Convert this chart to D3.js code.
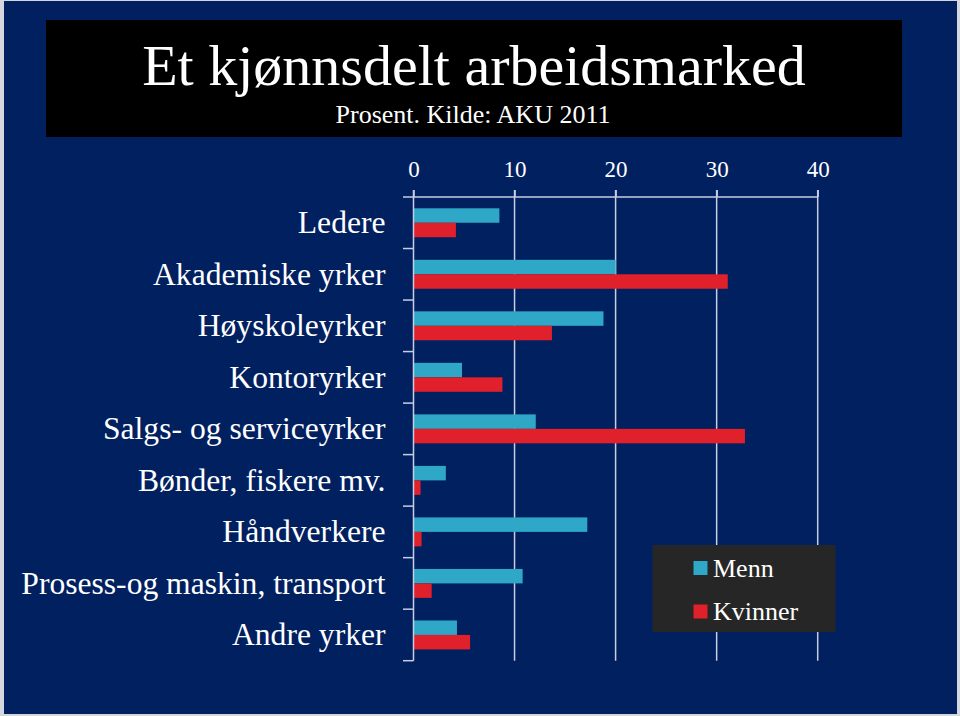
<!DOCTYPE html>
<html>
<head>
<meta charset="utf-8">
<script src="https://cdn.jsdelivr.net/npm/d3@7"></script>
<style>
  html, body { margin: 0; padding: 0; background: #d4d7de; }
  svg { display: block; }
  text { font-family: "Liberation Serif", "Times New Roman", Times, serif; fill: #ffffff; }
</style>
</head>
<body>
<svg id="chart" width="960" height="716"></svg>
<script>
// ---- data ----
const categories = [
  "Ledere",
  "Akademiske yrker",
  "Høyskoleyrker",
  "Kontoryrker",
  "Salgs- og serviceyrker",
  "Bønder, fiskere mv.",
  "Håndverkere",
  "Prosess-og maskin, transport",
  "Andre yrker"
];
const seriesNames = ["Menn", "Kvinner"];
const menn    = [8.5, 20.0, 18.8, 4.8, 12.1, 3.2, 17.2, 10.8, 4.3];
const kvinner = [4.2, 31.1, 13.7, 8.8, 32.8, 0.7, 0.8, 1.8, 5.6];
const xTicks = [0, 10, 20, 30, 40];
const title = "Et kjønnsdelt arbeidsmarked";
const subtitle = "Prosent. Kilde: AKU 2011";

// ---- chart ----
const svg = d3.select("#chart");
const colors = { "Menn": "#2ea8c6", "Kvinner": "#e0202b" };
const gridColor = "#c9cde2";

// frame
svg.append("rect").attr("x", 0).attr("y", 0).attr("width", 960).attr("height", 716).attr("fill", "#d4d7de");
svg.append("rect").attr("x", 4).attr("y", 1).attr("width", 953).attr("height", 713).attr("fill", "#012060");

// title box
svg.append("rect").attr("x", 46).attr("y", 20).attr("width", 856).attr("height", 117).attr("fill", "#000000");
svg.append("text").attr("x", 474).attr("y", 85).attr("text-anchor", "middle")
  .style("font-size", "58px").text(title);
svg.append("text").attr("x", 473).attr("y", 123).attr("text-anchor", "middle")
  .style("font-size", "26px").text(subtitle);

const x = d3.scaleLinear().domain([0, 40]).range([413.5, 817.7]);
const y = d3.scaleBand().domain(categories).range([197, 660.7]).padding(0);
const inner = d3.scaleBand().domain(seriesNames).range([0, y.bandwidth()])
  .paddingInner(0).paddingOuter(0.78);

const rows = categories.map((c, i) => ({ cat: c, Menn: menn[i], Kvinner: kvinner[i] }));

// vertical gridlines
svg.append("g").selectAll("line").data(xTicks.filter(d => d > 0)).join("line")
  .attr("x1", d => x(d)).attr("x2", d => x(d))
  .attr("y1", 190).attr("y2", 660.7)
  .attr("stroke", gridColor).attr("stroke-width", 1.5);

// top axis
const xAxis = d3.axisTop(x).tickValues(xTicks).tickSize(7).tickPadding(13).tickFormat(d3.format("d"));
const gx = svg.append("g").attr("transform", "translate(0,197)").call(xAxis);
gx.select(".domain").remove();
gx.append("line").attr("x1", 403).attr("x2", 818).attr("y1", 0).attr("y2", 0)
  .attr("stroke", gridColor).attr("stroke-width", 1.5);
gx.selectAll(".tick line").attr("stroke", gridColor).attr("stroke-width", 1.5);
gx.selectAll(".tick text").attr("fill", "#ffffff")
  .style("font-family", '"Liberation Serif", "Times New Roman", serif')
  .style("font-size", "23px");

// bars
const groups = svg.append("g").selectAll("g").data(rows).join("g")
  .attr("transform", d => `translate(0,${y(d.cat)})`);
groups.selectAll("rect").data(d => seriesNames.map(s => ({ s, v: d[s] }))).join("rect")
  .attr("x", x(0))
  .attr("y", d => inner(d.s))
  .attr("width", d => x(d.v) - x(0))
  .attr("height", inner.bandwidth())
  .attr("fill", d => colors[d.s]);

// left axis
const yAxis = d3.axisLeft(y).tickSize(0).tickPadding(28);
const gy = svg.append("g").attr("transform", `translate(${x(0)},0)`).call(yAxis);
gy.select(".domain").remove();
gy.selectAll(".tick text").attr("fill", "#ffffff")
  .style("font-family", '"Liberation Serif", "Times New Roman", serif')
  .style("font-size", "31.6px").attr("dy", "0.33em");
svg.append("line").attr("x1", x(0)).attr("x2", x(0)).attr("y1", 190).attr("y2", 660.7)
  .attr("stroke", gridColor).attr("stroke-width", 1.5);
// boundary ticks between categories
const bounds = categories.map(c => y(c) + y.bandwidth());
svg.append("g").selectAll("line").data(bounds).join("line")
  .attr("x1", 403).attr("x2", x(0))
  .attr("y1", d => d).attr("y2", d => d)
  .attr("stroke", gridColor).attr("stroke-width", 1.5);

// legend
const lg = svg.append("g");
lg.append("rect").attr("x", 652.5).attr("y", 545).attr("width", 183).attr("height", 87).attr("fill", "#262626");
seriesNames.forEach((s, i) => {
  const yy = 561 + i * 43.5;
  lg.append("rect").attr("x", 693.5).attr("y", yy).attr("width", 14).attr("height", 14).attr("fill", colors[s]);
  lg.append("text").attr("x", 713).attr("y", yy + 15.5).style("font-size", "26px").text(s);
});
</script>
</body>
</html>
